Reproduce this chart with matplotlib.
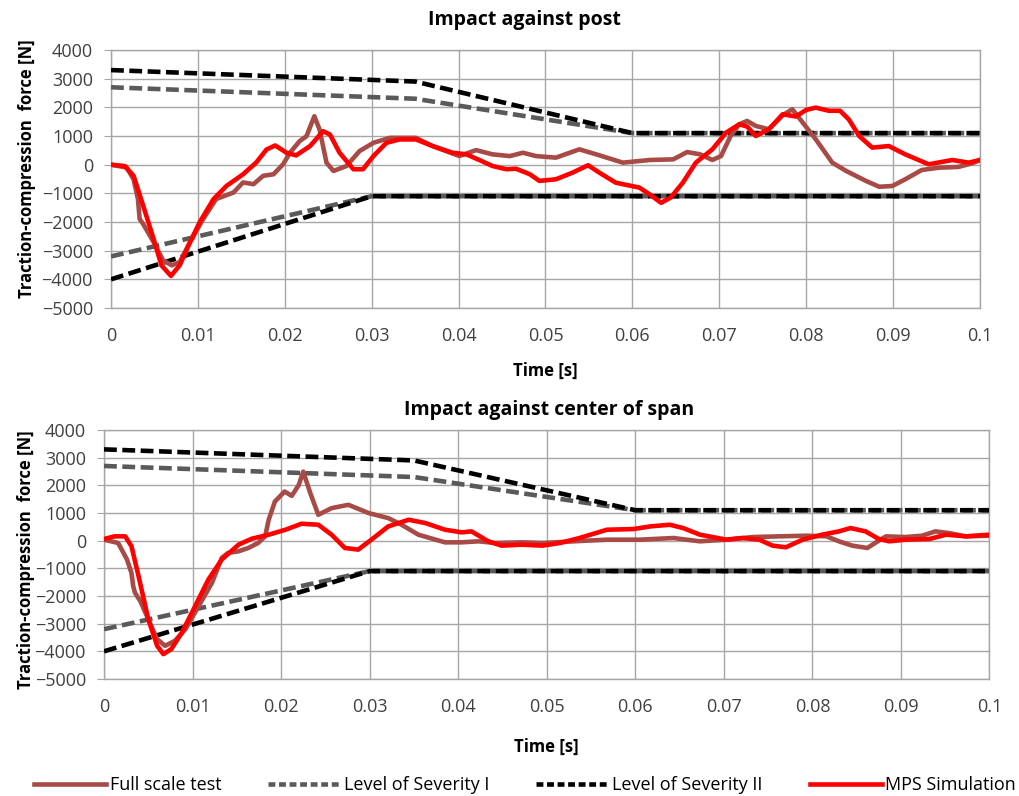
import numpy as np
import matplotlib.pyplot as plt
from matplotlib.lines import Line2D

# ---- severity envelopes (time in s, force in N) ----
sev1_up_t = [0.0, 0.035, 0.06, 0.1]
sev1_up_f = [2700, 2300, 1100, 1100]
sev2_up_t = [0.0, 0.035, 0.06, 0.1]
sev2_up_f = [3300, 2900, 1100, 1100]
sev1_lo_t = [0.0, 0.03, 0.1]
sev1_lo_f = [-3200, -1100, -1100]
sev2_lo_t = [0.0, 0.03, 0.1]
sev2_lo_f = [-4000, -1100, -1100]

# ---- impact against post (time in ms) ----
post_mps_t = [0, 1.6, 2.6, 3.7, 4.9, 5.8, 6.9, 7.9, 9.1, 10.2, 11.8, 13.3, 15.2, 16.7, 17.9,
              18.9, 20.2, 21.3, 22.9, 24.4, 25.2, 26.3, 27.9, 29.0, 30.2, 31.7, 33.2, 35.1,
              37.0, 39.3, 40.9, 42.4, 43.9, 45.5, 46.6, 48.2, 49.3, 51.2, 53.1, 54.9, 56.2,
              58.1, 60.8, 62.0, 63.3, 64.4, 65.8, 67.3, 69.2, 70.8, 72.3, 73.2, 74.2, 75.7,
              77.3, 78.8, 80.0, 81.1, 82.6, 83.9, 84.9, 86.1, 87.6, 89.5, 91.4, 94.1, 96.8,
              98.7, 100]
post_mps_f = [0, -50, -390, -1430, -2590, -3510, -3880, -3510, -2700, -2010, -1200, -740,
              -335, 70, 530, 670, 416, 324, 647, 1167, 1050, 416, -160, -160, 300, 763, 880,
              880, 650, 416, 360, 160, -46, -160, -140, -335, -566, -510, -280, -20, -280,
              -630, -800, -1040, -1330, -1150, -630, 70, 535, 1120, 1410, 1330, 1000, 1235,
              1760, 1680, 1910, 1990, 1880, 1880, 1580, 1000, 594, 650, 360, 12, 163, 70, 163]

post_test_t = [0, 1.8, 2.6, 3.1, 3.3, 3.7, 4.9, 6.0, 7.0, 7.9, 9.1, 10.6, 12.1, 14.1, 15.2,
               16.4, 17.5, 18.7, 19.8, 20.6, 21.7, 22.5, 23.4, 24.0, 24.8, 25.6, 27.1, 28.6,
               30.2, 32.1, 35.1, 37.0, 40.1, 42.0, 43.9, 45.9, 47.4, 48.9, 51.2, 53.9, 56.2,
               58.9, 62.0, 64.7, 66.3, 67.8, 69.2, 70.2, 71.3, 72.3, 73.2, 74.2, 75.7, 77.3,
               78.4, 79.6, 81.1, 83.0, 84.6, 86.9, 88.4, 89.9, 91.4, 93.3, 95.3, 97.5, 99.1,
               100]
post_test_f = [0, -100, -510, -1200, -1900, -2070, -2700, -3340, -3510, -3400, -2700, -1900,
               -1200, -970, -620, -680, -390, -335, 12, 416, 820, 994, 1690, 1225, 70, -220,
               -46, 474, 763, 936, 936, 650, 300, 508, 360, 300, 416, 300, 245, 535, 326, 70,
               163, 186, 440, 360, 163, 300, 1000, 1410, 1526, 1350, 1235, 1724, 1934, 1468,
               885, 70, -220, -570, -770, -745, -510, -186, -105, -80, 47, 163]

# ---- impact against center of span (time in ms) ----
span_mps_t = [0, 1.2, 2.4, 3.1, 3.9, 5.0, 6.0, 6.7, 7.6, 8.8, 10.3, 11.8, 13.3, 15.2, 16.7,
              18.6, 20.5, 22.3, 24.2, 25.7, 27.2, 28.7, 30.2, 32.1, 34.4, 36.3, 38.5, 40.4,
              41.5, 43.4, 44.9, 47.2, 49.5, 51.5, 53.7, 56.8, 59.8, 61.7, 63.9, 65.4, 67.3,
              70.3, 72.1, 74.0, 75.5, 77.0, 78.9, 81.1, 83.0, 84.3, 86.0, 87.5, 88.7, 90.5,
              93.2, 95.1, 97.3, 100]
span_mps_f = [60, 156, 156, -200, -1280, -2840, -3800, -4100, -3920, -3320, -2360, -1400,
              -680, -144, 72, 216, 396, 612, 576, 216, -264, -324, 36, 516, 756, 636, 396,
              300, 336, -24, -180, -144, -180, -84, 96, 396, 420, 516, 576, 456, 216, 36, 96,
              36, -180, -240, 36, 216, 336, 456, 336, 60, -24, 36, 60, 216, 156, 216]

span_test_t = [0, 1.6, 2.6, 3.1, 3.3, 3.5, 4.1, 5.0, 6.0, 6.9, 8.0, 9.2, 10.7, 12.2, 13.3,
               14.0, 15.2, 16.3, 17.4, 18.2, 18.6, 19.3, 20.4, 21.2, 22.0, 22.5, 23.3, 24.2,
               25.7, 27.6, 29.9, 32.1, 33.6, 35.5, 38.5, 40.4, 42.3, 44.2, 47.2, 49.5, 53.0,
               56.8, 60.5, 64.3, 67.3, 70.3, 73.3, 76.3, 79.3, 81.6, 83.0, 84.5, 86.2, 87.2,
               88.3, 90.5, 92.4, 93.9, 95.4, 97.3, 100]
span_test_f = [36, -84, -684, -1164, -1644, -1884, -2184, -2840, -3560, -3800, -3620, -3200,
               -2360, -1520, -624, -444, -384, -264, -84, 156, 756, 1416, 1776, 1620, 2016,
               2496, 1716, 936, 1176, 1296, 996, 816, 576, 216, -60, -60, -24, -84, -60, -84,
               -24, 36, 36, 96, -24, 36, 132, 156, 180, 156, -24, -180, -264, -60, 156, 132,
               180, 336, 276, 156, 180]

xticks = [0, 0.01, 0.02, 0.03, 0.04, 0.05, 0.06, 0.07, 0.08, 0.09, 0.1]
xtick_labels = ["0", "0.01", "0.02", "0.03", "0.04", "0.05", "0.06", "0.07", "0.08", "0.09", "0.1"]
yticks = list(range(-5000, 4001, 1000))

plt.rcParams["font.family"] = ["Open Sans", "DejaVu Sans"]

C_TEST = "#A84B47"
C_SEV1 = "#5A5A5A"
C_SEV2 = "#000000"
C_MPS = "#FF0000"
C_GRID = "#A6A6A6"

fig = plt.figure(figsize=(10.2, 7.96), dpi=100)
ax1 = fig.add_axes([111 / 1020, 1 - 308 / 796, 869 / 1020, 258 / 796])
ax2 = fig.add_axes([104 / 1020, 1 - 679 / 796, 885.5 / 1020, 249 / 796])

dash = (2.8, 1.2)
LW = 3.3


def draw(ax, mps_t, mps_f, test_t, test_f, ylab_pos, xlab_pos):
    ax.plot(np.array(test_t) / 1000, test_f, color=C_TEST, lw=LW, zorder=4)
    ax.plot(sev1_up_t, sev1_up_f, color=C_SEV1, lw=LW, dashes=dash, zorder=3)
    ax.plot(sev1_lo_t, sev1_lo_f, color=C_SEV1, lw=LW, dashes=dash, zorder=3)
    ax.plot(sev2_up_t, sev2_up_f, color=C_SEV2, lw=LW, dashes=dash, zorder=3)
    ax.plot(sev2_lo_t, sev2_lo_f, color=C_SEV2, lw=LW, dashes=dash, zorder=3)
    ax.plot(np.array(mps_t) / 1000, mps_f, color=C_MPS, lw=LW, zorder=5)
    ax.set_xlim(0, 0.1)
    ax.set_ylim(-5000, 4000)
    ax.set_xticks(xticks)
    ax.set_xticklabels(xtick_labels)
    ax.set_yticks(yticks)
    ax.grid(True, color=C_GRID, lw=1.0)
    ax.set_axisbelow(True)
    for s in ax.spines.values():
        s.set_color(C_GRID)
        s.set_linewidth(1.0)
    ax.tick_params(axis="y", length=5, color=C_GRID, pad=8, labelsize=13, labelcolor="#404040")
    ax.tick_params(axis="x", length=0, pad=14, labelsize=13, labelcolor="#404040")
    ax.set_ylabel("Traction-compression  force [N]", fontsize=12, fontweight="bold")
    ax.yaxis.set_label_coords(*ylab_pos)
    ax.set_xlabel("Time [s]", fontsize=12, fontweight="bold")
    ax.xaxis.set_label_coords(*xlab_pos)


draw(ax1, post_mps_t, post_mps_f, post_test_t, post_test_f, (-0.086, 0.54), (0.5, -0.21))
draw(ax2, span_mps_t, span_mps_f, span_test_t, span_test_f, (-0.078, 0.48), (0.5, -0.235))

fig.text(524 / 1020, 1 - 20 / 796, "Impact against post", ha="center", va="center",
         fontsize=14, fontweight="bold")
fig.text(549 / 1020, 1 - 410 / 796, "Impact against center of span", ha="center", va="center",
         fontsize=14, fontweight="bold")

handles = [
    Line2D([], [], color=C_TEST, lw=LW),
    Line2D([], [], color=C_SEV1, lw=LW, dashes=(1.5, 0.8)),
    Line2D([], [], color=C_SEV2, lw=LW, dashes=(1.5, 0.8)),
    Line2D([], [], color=C_MPS, lw=LW),
]
labels = ["Full scale test", "Level of Severity I", "Level of Severity II", "MPS Simulation"]
fig.legend(handles, labels, loc="center", bbox_to_anchor=(525 / 1020, 1 - 785 / 796), ncol=4,
           frameon=False, fontsize=13, handlelength=4.0, handletextpad=0.2, columnspacing=2.6)

fig.savefig("out.png", dpi=100, facecolor="white")
